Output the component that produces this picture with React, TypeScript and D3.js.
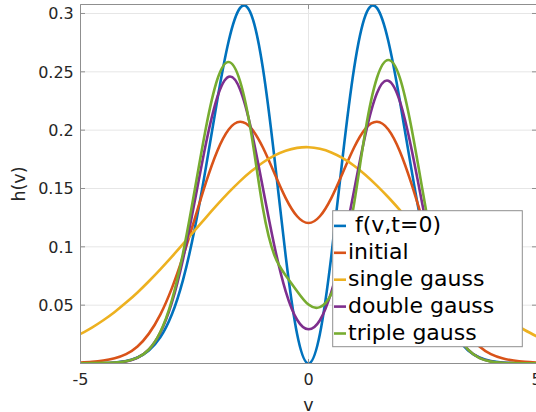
import React from 'react';
import * as d3 from 'd3';

// velocity grid
const V = [-5, -4.75, -4.5, -4.25, -4, -3.75, -3.5, -3.25, -3, -2.75, -2.5, -2.25, -2, -1.75, -1.5, -1.25, -1, -0.75, -0.5, -0.25,
  0, 0.25, 0.5, 0.75, 1, 1.25, 1.5, 1.75, 2, 2.25, 2.5, 2.75, 3, 3.25, 3.5, 3.75, 4, 4.25, 4.5, 4.75, 5];

const F_T0 = [0, .0001, .0003, .0009, .0022, .0052, .0112, .0224, .0417, .0719, .1146, .1681, .2259, .2764, .3048, .2985, .2531, .1772, .0921, .0253,
  0, .0253, .0921, .1772, .2531, .2985, .3048, .2764, .2259, .1681, .1146, .0719, .0417, .0224, .0112, .0052, .0022, .0009, .0003, .0001, 0];

const INITIAL = [.0008, .0014, .0025, .0045, .0080, .0146, .0256, .0419, .0642, .0920, .1234, .1550, .1822, .2006, .2072, .2013, .1851, .1633, .1418, .1262,
  .1204, .1262, .1418, .1633, .1851, .2013, .2072, .2006, .1822, .1550, .1234, .0920, .0642, .0419, .0256, .0146, .0080, .0045, .0025, .0014, .0008];

const SINGLE = [.0253, .0308, .0371, .0442, .0522, .0609, .0705, .0807, .0914, .1025, .1138, .1251, .1361, .1466, .1563, .1649, .1723, .1782, .1824, .1848,
  .1854, .1840, .1809, .1760, .1695, .1616, .1525, .1425, .1317, .1206, .1093, .0980, .0870, .0765, .0665, .0573, .0489, .0412, .0344, .0285, .0233];

const DOUBLE = [.0001, .0001, .0002, .0006, .0018, .0049, .0121, .0265, .0518, .0897, .1379, .1883, .2283, .2458, .2349, .1994, .1504, .1012, .0619, .0375,
  .0293, .0371, .0612, .0998, .1483, .1966, .2316, .2423, .2251, .1856, .1359, .0884, .0510, .0262, .0119, .0048, .0017, .0006, .0002, .0001, 0];

const TRIPLE = [.0002, .0003, .0005, .0009, .0020, .0050, .0120, .0270, .0537, .0949, .1476, .2019, .2434, .2584, .2419, .1960, .1330, .0930, .0755, .0620,
  .0505, .0483, .0595, .0880, .1370, .2000, .2447, .2601, .2452, .2035, .1487, .0956, .0542, .0270, .0118, .0046, .0016, .0006, .0003, .0002, .0001];

const SERIES_NAMES = [' f(v,t=0)', 'initial', 'single gauss', 'double gauss', 'triple gauss'];
const SERIES_VALUES = [F_T0, INITIAL, SINGLE, DOUBLE, TRIPLE];
const COLORS = ['#0072BD', '#D95319', '#EDB120', '#7E2F8E', '#77AC30'];

const X_TICKS = [-5, 0, 5];
const X_TICK_LABELS = ['-5', '0', '5'];
const Y_TICKS = [0.05, 0.1, 0.15, 0.2, 0.25, 0.3];
const Y_TICK_LABELS = ['0.05', '0.1', '0.15', '0.2', '0.25', '0.3'];

export default function App() {
  const W = 536, H = 412;
  const L = 80.5, R = 536.5, T = 4.5, B = 363.5;
  const x = d3.scaleLinear().domain([-5, 5]).range([L, R]);
  const y = d3.scaleLinear().domain([0, 0.3077]).range([B, T]);
  const line = d3.line<number>().x((_, i) => x(V[i])).y(d => y(d)).curve(d3.curveNatural);
  const axisColor = '#8f8f8f';
  const gridColor = '#e6e6e6';
  const textColor = '#262626';
  const font = '"DejaVu Sans", sans-serif';

  const legX = 332.7, legY = 210.7, legW = 189.6, legH = 136;
  const rowY0 = 225.9, rowStep = 26.9;

  return (
    <svg width={W} height={H} style={{ position: 'absolute', left: 0, top: 0, background: '#fff' }} fontFamily={font}>
      <defs>
        <clipPath id="plotclip">
          <rect x={L} y={T} width={R - L} height={B - T} />
        </clipPath>
      </defs>
      <rect x={0} y={0} width={W} height={H} fill="#fff" />
      {/* grid */}
      {Y_TICKS.map(t => (
        <line key={'gy' + t} x1={L} x2={R} y1={y(t)} y2={y(t)} stroke={gridColor} strokeWidth={1} />
      ))}
      {X_TICKS.map(t => (
        <line key={'gx' + t} x1={x(t)} x2={x(t)} y1={T} y2={B} stroke={gridColor} strokeWidth={1} />
      ))}
      {/* curves */}
      <g clipPath="url(#plotclip)">
        {SERIES_VALUES.map((vals, i) => (
          <path key={i} d={line(vals) || ''} fill="none" stroke={COLORS[i]} strokeWidth={2.6} strokeLinejoin="round" />
        ))}
      </g>
      {/* axes box */}
      <line x1={L} x2={L} y1={T} y2={B} stroke={axisColor} strokeWidth={1} />
      <line x1={L} x2={R} y1={B} y2={B} stroke={axisColor} strokeWidth={1} />
      <line x1={L} x2={R} y1={T} y2={T} stroke={axisColor} strokeWidth={1} />
      <line x1={R} x2={R} y1={T} y2={B} stroke={axisColor} strokeWidth={1} />
      {/* ticks */}
      {Y_TICKS.map(t => (
        <g key={'ty' + t}>
          <line x1={L} x2={L + 4.5} y1={y(t)} y2={y(t)} stroke={axisColor} />
          <line x1={R} x2={R - 4.5} y1={y(t)} y2={y(t)} stroke={axisColor} />
        </g>
      ))}
      {X_TICKS.map(t => (
        <g key={'tx' + t}>
          <line x1={x(t)} x2={x(t)} y1={B} y2={B - 4.5} stroke={axisColor} />
          <line x1={x(t)} x2={x(t)} y1={T} y2={T + 4.5} stroke={axisColor} />
        </g>
      ))}
      {/* tick labels */}
      {Y_TICKS.map((t, i) => (
        <text key={'ly' + t} x={73.8} y={y(t) + 5.8} textAnchor="end" fontSize={16} fill={textColor}>{Y_TICK_LABELS[i]}</text>
      ))}
      {X_TICKS.map((t, i) => (
        <text key={'lx' + t} x={x(t)} y={385} textAnchor="middle" fontSize={16} fill={textColor}>{X_TICK_LABELS[i]}</text>
      ))}
      {/* axis labels */}
      <text x={x(0)} y={410.5} textAnchor="middle" fontSize={17.5} fill={textColor}>v</text>
      <text transform="translate(25,184) rotate(-90)" textAnchor="middle" fontSize={17.5} fill={textColor}>h(v)</text>
      {/* legend */}
      <rect x={legX} y={legY} width={legW} height={legH} fill="#fff" stroke="#8f8f8f" strokeWidth={1} />
      {SERIES_NAMES.map((name, i) => {
        const cy = rowY0 + i * rowStep;
        return (
          <g key={'leg' + i}>
            <line x1={334} x2={346} y1={cy} y2={cy} stroke={COLORS[i]} strokeWidth={2.6} />
            <text x={348} y={cy + 6.4} fontSize={22} fill="#000" style={{ whiteSpace: 'pre' }}>{name}</text>
          </g>
        );
      })}
    </svg>
  );
}
